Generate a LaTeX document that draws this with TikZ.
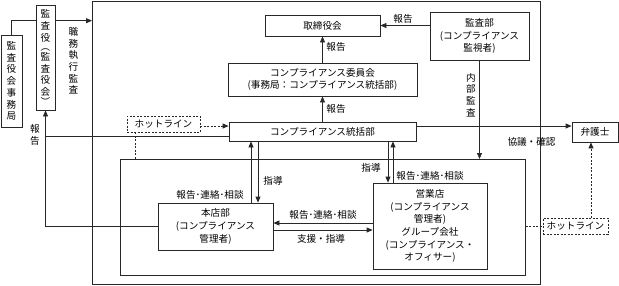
\documentclass[tikz,border=0pt]{standalone}
\usepackage{fontspec}
\newfontfamily\jpfont{Noto Sans CJK JP}
\newcommand{\jpf}{\jpfont\fontsize{9.6}{12.6}\selectfont}
\newcommand{\jpv}{\jpfont\fontsize{9.6}{11.7}\selectfont}
\usetikzlibrary{arrows.meta,positioning,calc}
\definecolor{linegray}{RGB}{40,40,40}

\begin{document}
\begin{tikzpicture}[x=1pt, y=-1pt,
    box/.style={draw=linegray, line width=0.8pt, inner sep=0pt, align=center, font=\jpf},
    hotbox/.style={box, dash pattern=on 2pt off 1.5pt},
    lbl/.style={font=\jpf, inner sep=0pt},
    vlbl/.style={font=\jpv, inner sep=0pt, align=center, text width=10pt},
    ln/.style={draw=linegray, line width=0.8pt},
    arr/.style={ln, -{Triangle[length=6pt,width=5pt]}},
    hot/.style={ln, dash pattern=on 2pt off 1.5pt}]
    \useasboundingbox (0,0) rectangle (619,285);

    % --- Frames ---
    \node[draw=linegray, line width=0.8pt, inner sep=0pt, minimum width=448pt, minimum height=283pt, anchor=north west] (frame) at (92,1) {};
    \node[draw=linegray, line width=0.8pt, inner sep=0pt, minimum width=405pt, minimum height=116pt, anchor=north west] (inner) at (120,159) {};

    % --- Auditors (left) ---
    \node[box, font=\jpv, minimum width=21pt, minimum height=92pt] (jimukyoku) at (11.5,81) {監\\査\\役\\会\\事\\務\\局};
    \node[box, font=\jpv, minimum width=19pt, minimum height=105pt] (kansayaku) at (45.5,57.5) {監\\査\\役\\[-2pt]︵\\[-2pt]監\\査\\役\\会\\[-2pt]︶};
    \coordinate (lv1) at (0,20.7);
    \draw[ln] (jimukyoku.north) |- (kansayaku.west |- lv1);
    \draw[arr] (kansayaku.east |- lv1) -- (frame.west |- lv1);
    \node[vlbl] (duty) at (73.5,61) {職\\務\\執\\行\\監\\査};

    % --- Upper boxes ---
    \node[box, minimum width=115pt, minimum height=21pt] (board) at (322.5,25.5) {取締役会};
    \node[box, minimum width=99pt, minimum height=48pt] (audit) at (479.5,36) {監査部\\(コンプライアンス\\監視者)};
    \node[box, minimum width=189pt, minimum height=33pt] (committee) at (322.5,79.5) {コンプライアンス委員会\\(事務局：コンプライアンス統括部)};
    \node[box, minimum width=187pt, minimum height=19pt] (control) at (322.5,131.5) {コンプライアンス統括部};
    \node[box, minimum width=46pt, minimum height=20pt] (lawyer) at (595,132) {弁護士};
    \node[hotbox, minimum width=73pt, minimum height=16pt] (hotline) at (163.5,124) {ホットライン};

    % --- Lower boxes ---
    \node[box, minimum width=115pt, minimum height=47pt] (honten) at (215.5,226.5) {本店部\\(コンプライアンス\\管理者)};
    \node[box, minimum width=114pt, minimum height=86pt] (branch) at (430,226) {営業店\\(コンプライアンス\\管理者)\\グループ会社\\(コンプライアンス・\\オフィサー)};
    \node[hotbox, minimum width=65pt, minimum height=16pt] (hotlineb) at (575.5,226) {ホットライン};

    % Reports to the auditors
    \coordinate (lv2) at (0,136.7);
    \draw[arr] (honten.west) -| (kansayaku.south);
    \draw[ln] (control.west |- lv2) -- (kansayaku.south |- lv2);
    \node[vlbl] (rep0) at (35,135) {報\\告};

    % Reports upwards
    \draw[arr] (audit.west |- board.east) -- (board.east);
    \node[lbl] (rep1) at (403,19) {報告};
    \draw[arr] (committee.north) -- (board.south);
    \node[lbl] (rep2) at (336,47) {報告};
    \draw[arr] (control.north) -- (committee.south);
    \node[lbl] (rep3) at (336,109) {報告};

    % Internal audit
    \draw[arr] (audit.south) -- (audit.south |- inner.north);
    \node[vlbl] (internal) at (471,95) {内\\部\\監\\査};

    % Lawyer and hotlines
    \coordinate (lv3) at (0,126);
    \draw[arr] (control.east |- lv3) -- (lawyer.west |- lv3);
    \node[lbl] (consult) at (531.5,142) {協議・確認};
    \draw[hot, -{Triangle[length=6pt,width=5pt]}] (hotline.east |- lv3) -- (control.west |- lv3);
    \coordinate (hx) at (135,0);
    \draw[hot] (hotline.south -| hx) -- (inner.north -| hx);
    \draw[hot] (inner.east |- hotlineb.west) -- (hotlineb.west);
    \coordinate (hy) at (591,0);
    \draw[hot, -{Triangle[length=6pt,width=5pt]}] (hotlineb.north -| hy) -- (lawyer.south -| hy);

    % Control <-> head office
    \coordinate (ua) at (251,0);
    \coordinate (da) at (258,0);
    \draw[arr] (honten.north -| ua) -- (control.south -| ua);
    \draw[arr] (control.south -| da) -- (honten.north -| da);
    \node[lbl] (rep4) at (210,195) {報告･連絡･相談};
    \node[lbl] (guide1) at (273,181) {指導};

    % Control <-> branches
    \coordinate (db) at (388,0);
    \coordinate (ub) at (393,0);
    \draw[arr] (control.south -| db) -- (branch.north -| db);
    \draw[arr] (branch.north -| ub) -- (control.south -| ub);
    \node[lbl] (guide2) at (371,168) {指導};
    \node[lbl] (rep5) at (430,176) {報告･連絡･相談};

    % Head office <-> branches
    \coordinate (la) at (0,223);
    \coordinate (ra) at (0,230);
    \draw[arr] (branch.west |- la) -- (honten.east |- la);
    \draw[arr] (honten.east |- ra) -- (branch.west |- ra);
    \node[lbl] (rep6) at (323,215) {報告･連絡･相談};
    \node[lbl] (support) at (321,239) {支援・指導};
\end{tikzpicture}
\end{document}
